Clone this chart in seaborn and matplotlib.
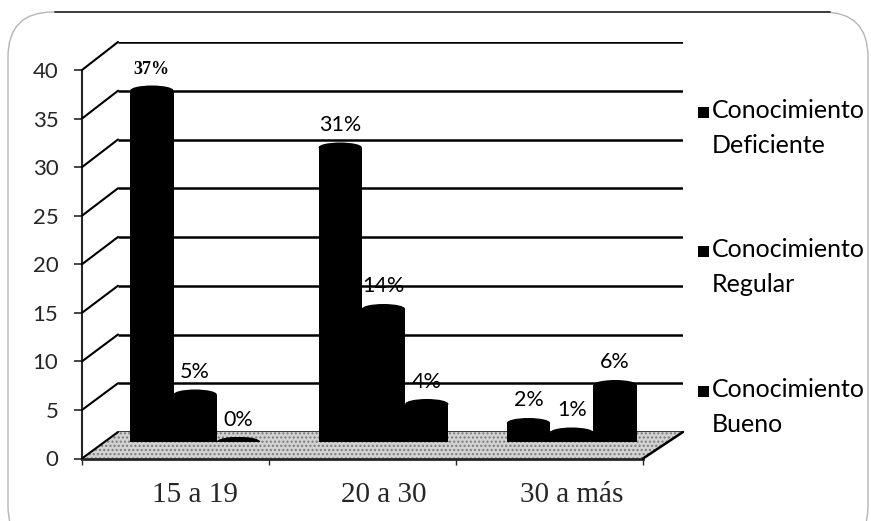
import numpy as np
import pandas as pd
import matplotlib
matplotlib.use("Agg")
import matplotlib.pyplot as plt
import seaborn as sns
from matplotlib.patches import Polygon, Ellipse, Rectangle, FancyBboxPatch, ConnectionPatch
from matplotlib.transforms import IdentityTransform
from matplotlib.lines import Line2D

# Datos: nivel de conocimiento por grupo de edad (porcentaje)
grupos_edad = ["15 a 19", "20 a 30", "30 a más"]
niveles = ["Conocimiento\nDeficiente", "Conocimiento\nRegular", "Conocimiento\nBueno"]
deficiente = [37, 31, 2]
regular = [5, 14, 1]
bueno = [0, 4, 6]
marcas_y = [0, 5, 10, 15, 20, 25, 30, 35, 40]

sns.set_style("white")
plt.rcParams["font.family"] = ["Lato", "DejaVu Sans"]

W, H = 871, 521
fig = plt.figure(figsize=(W / 100, H / 100), dpi=100)
fig.patch.set_facecolor("white")


def place_axes(x_left, x_right, y_zero, y_top):
    """Axes whose x range spans x_left..x_right px and y=0 / y=40 sit at the given rows."""
    ax = fig.add_axes([x_left / W, (H - y_zero) / H,
                       (x_right - x_left) / W, (y_zero - y_top) / H])
    ax.set_xlim(-0.5, 2.5)
    ax.set_ylim(0, 40)
    ax.set_facecolor("none")
    return ax


# three depth planes of the pseudo-3D chart: back wall, front axis, bars in between
ax_back = place_axes(118, 683, 432, 42)
ax_front = place_axes(82, 643, 458.5, 70)
ax_bars = place_axes(101, 666, 442, 62)

# back wall gridlines
ax_back.hlines(marcas_y, -0.5, 2.5, colors="black", linewidth=1.8)
ax_back.axis("off")

# floor (stippled parallelogram between front and back planes)
floor_pts = np.array([
    ax_front.transData.transform((-0.5, 0)),
    ax_front.transData.transform((2.5, 0)),
    ax_back.transData.transform((2.5, 0)),
    ax_back.transData.transform((-0.5, 0)),
])
floor = Polygon(floor_pts, closed=True, facecolor="#d2d2d2", edgecolor="#7a7a7a",
                hatch="....", linewidth=0, transform=IdentityTransform(), zorder=-1)
fig.add_artist(floor)

# side-wall diagonals joining the front axis ticks to the back gridlines
for v in marcas_y:
    fig.add_artist(ConnectionPatch(xyA=(-0.5, v), coordsA=ax_front.transData,
                                   xyB=(-0.5, v), coordsB=ax_back.transData,
                                   color="black", linewidth=1.5))
fig.add_artist(ConnectionPatch(xyA=(2.5, 0), coordsA=ax_front.transData,
                               xyB=(2.5, 0), coordsB=ax_back.transData,
                               color="black", linewidth=1.8))

# front value axis
for side in ("top", "right"):
    ax_front.spines[side].set_visible(False)
ax_front.spines["left"].set_linewidth(1.5)
ax_front.spines["bottom"].set_linewidth(2)
ax_front.set_yticks(marcas_y)
ax_front.tick_params(axis="y", length=6, width=1.2, pad=11, labelsize=16,
                     direction="out", left=True)
ax_front.set_xticks([-0.5, 0.5, 1.5, 2.5])
ax_front.tick_params(axis="x", length=4, width=1.0, direction="out",
                     bottom=True, labelbottom=False)

# bars (cylinders)
df = pd.DataFrame({
    "edad": grupos_edad * 3,
    "nivel": np.repeat(niveles, len(grupos_edad)),
    "valor": deficiente + regular + bueno,
})
sns.barplot(data=df, x="edad", y="valor", hue="nivel", order=grupos_edad,
            hue_order=niveles, palette=["black"] * 3, saturation=1,
            width=0.69, gap=0, errorbar=None, linewidth=0, legend=False,
            ax=ax_bars)
ax_bars.set_xlim(-0.5, 2.5)
ax_bars.set_ylim(0, 40)
ax_bars.set_xlabel("")
ax_bars.set_ylabel("")
ax_bars.set_yticks([])
for s in ax_bars.spines.values():
    s.set_visible(False)
ax_bars.tick_params(axis="x", length=0, pad=29, labelsize=21)
for lbl in ax_bars.get_xticklabels():
    lbl.set_fontfamily("Liberation Serif")

# rounded cylinder caps from each bar's own geometry
px_per_unit = ax_bars.bbox.height / 40
cap_h = 10 / px_per_unit
for container in ax_bars.containers:
    for bar in container:
        cx = bar.get_x() + bar.get_width() / 2
        w = bar.get_width()
        for yy in (0, bar.get_height()):
            ax_bars.add_patch(Ellipse((cx, yy), w, cap_h, facecolor="black",
                                      edgecolor="none", zorder=bar.get_zorder()))

# value labels
for container, vals in zip(ax_bars.containers, [deficiente, regular, bueno]):
    texts = ax_bars.bar_label(container, labels=[f"{v}%" for v in vals],
                              padding=9, fontsize=15.5, color="black")
    if vals is deficiente:
        texts[0].set_fontfamily("Liberation Serif")
        texts[0].set_fontweight("bold")
        texts[0].set_fontsize(13)

# legend drawn beside the wall: square marker on the first line
leyenda_base = [118, 257, 397]
renglon = 35
for nivel, base in zip(niveles, leyenda_base):
    fig.add_artist(Rectangle((698 / W, (H - base) / H), 11 / W, 11 / H,
                             transform=fig.transFigure, facecolor="black",
                             edgecolor="none"))
    for k, linea in enumerate(nivel.split("\n")):
        fig.text(712 / W, (H - base - k * renglon) / H, linea, fontsize=18,
                 va="baseline", ha="left", color="black")

# outer rounded frame
frame = FancyBboxPatch((8, -30), 860, H - 12 + 30,
                       boxstyle="round,pad=0,rounding_size=45",
                       transform=IdentityTransform(), facecolor="none",
                       edgecolor="#b5b5b5", linewidth=1.0)
fig.add_artist(frame)
fig.add_artist(Line2D([55, 830], [H - 12, H - 12], transform=IdentityTransform(),
                      color="#333333", linewidth=1.3))

fig.savefig("out.png", dpi=100)
